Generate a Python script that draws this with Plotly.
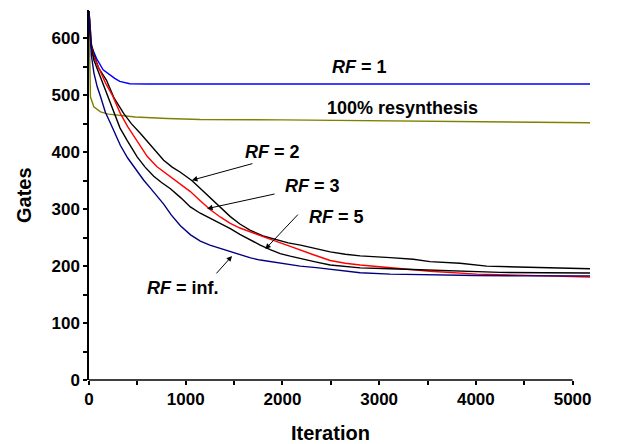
import plotly.graph_objects as go

# ---- data ----
rf1_x = [0, 5, 26, 77, 146, 215, 266, 318, 421, 600, 1000, 2000, 3000, 4000, 5180]
rf1_y = [648, 600, 586, 565, 545, 536, 530, 524.5, 520.5, 520, 520, 520, 520, 520, 520]

resyn_x = [0, 5, 15, 50, 119, 200, 325, 480, 808, 1150, 2000, 3000, 4000, 5180]
resyn_y = [648, 560, 497, 480, 471, 467, 465, 462, 459.5, 457.7, 457, 455.5, 453.5, 452]

rf2_x = [0, 10, 25, 50, 100, 180, 260, 360, 440, 532, 650, 772, 860, 945, 1066, 1160, 1255,
         1360, 1461, 1560, 1668, 1800, 1943, 2060, 2187, 2350, 2494, 2650, 2804, 3114, 3354,
         3526, 3836, 4112, 4592, 5180]
rf2_y = [648, 615, 590, 572, 548, 527, 495, 468, 450, 433, 410, 386, 374, 365, 350, 335, 319,
         302, 287, 274, 263, 253, 246, 241, 237, 231, 225, 221, 218, 215, 212,
         208, 205, 200, 198, 195.5]

rf3_x = [0, 10, 25, 50, 100, 170, 242, 325, 400, 463, 530, 601, 700, 842, 950, 1048, 1150,
         1255, 1360, 1461, 1560, 1668, 1800, 1943, 2060, 2184, 2321, 2494, 2650, 2804, 3114,
         3526, 4009, 4455, 4765, 5180]
rf3_y = [648, 612, 585, 568, 548, 522, 500, 468, 445, 428, 410, 393, 375, 357, 343, 331, 315,
         299, 286, 275, 267, 260, 251, 243, 236, 229, 220, 210, 205, 202, 197,
         191, 186, 184.5, 182.6, 181]

rf5_x = [0, 10, 25, 50, 100, 190, 256, 320, 394, 450, 498, 580, 669, 750, 842, 950, 1048,
         1150, 1255, 1360, 1461, 1560, 1668, 1770, 1874, 1977, 2080, 2184, 2340, 2494, 2650,
         2804, 3114, 3526, 3900, 4250, 4700, 5180]
rf5_y = [648, 610, 583, 562, 540, 500, 470, 443, 421, 405, 392, 374, 358, 347, 336, 320, 304,
         293, 284, 275, 266, 256, 246, 237, 229, 222, 217.5, 214, 207.5, 202, 199,
         197, 195.5, 193, 190.5, 189, 188.5, 188]

rfinf_x = [0, 10, 25, 50, 85, 119, 170, 222, 280, 325, 400, 463, 520, 566, 635, 700, 772, 850,
           945, 1050, 1151, 1250, 1358, 1460, 1564, 1670, 1771, 1900, 2012, 2184, 2350, 2494,
           2650, 2804, 3114, 3526, 4000, 4455, 5180]
rfinf_y = [648, 608, 570, 540, 515, 498, 470, 451, 428, 412, 390, 375, 362, 351, 337, 323, 309,
           290, 271, 255, 244, 237, 231, 225, 219.5, 214.5, 210.7, 207, 204, 200, 197.5, 195,
           191, 188.5, 186, 184.5, 183.5, 183, 183]

x_ticks = [0, 1000, 2000, 3000, 4000, 5000]
y_ticks = [0, 100, 200, 300, 400, 500, 600]

FONT = "Liberation Sans, Arial, sans-serif"

fig = go.Figure()
series = [
    (rf1_x, rf1_y, "#0000ff", "RF = 1"),
    (resyn_x, resyn_y, "#808000", "100% resynthesis"),
    (rf2_x, rf2_y, "#000000", "RF = 2"),
    (rf3_x, rf3_y, "#ff0000", "RF = 3"),
    (rf5_x, rf5_y, "#000000", "RF = 5"),
    (rfinf_x, rfinf_y, "#000080", "RF = inf."),
]
for xs, ys, col, name in series:
    fig.add_trace(go.Scatter(x=xs, y=ys, mode="lines", name=name,
                             line=dict(color=col, width=1.4), hoverinfo="skip"))

# x axis base line only up to 5000
fig.add_shape(type="line", xref="x", yref="paper", x0=0, x1=5000, y0=0, y1=0,
              line=dict(color="black", width=1.5))

labels = [
    ("<b><i>RF</i> = 1</b>", 2492, 550),
    ("<b>100% resynthesis</b>", 2440, 478),
    ("<b><i>RF</i> = 2</b>", 1592, 401),
    ("<b><i>RF</i> = 3</b>", 2006, 341.4),
    ("<b><i>RF</i> = 5</b>", 2254, 287),
    ("<b><i>RF</i> = inf.</b>", 579, 161.6),
]
for txt, x, y in labels:
    fig.add_annotation(x=x, y=y, text=txt, showarrow=False, xanchor="left", yanchor="middle",
                       font=dict(family=FONT, size=18, color="black"))

arrows = [
    (1064, 351, 62, -17),
    (1221, 301, 69, -15),
    (1823, 230, 34, -36),
    (1479, 218, -17, 19),
]
for x, y, ax, ay in arrows:
    fig.add_annotation(x=x, y=y, ax=ax, ay=ay, text="", showarrow=True,
                       arrowhead=2, arrowsize=1.1, arrowwidth=1, arrowcolor="black")

# axis titles
fig.add_annotation(x=2500, xref="x", y=0, yref="paper", yshift=-53, text="<b>Iteration</b>",
                   showarrow=False, xanchor="center", yanchor="middle",
                   font=dict(family=FONT, size=20, color="black"))
fig.add_annotation(x=0, xref="paper", xshift=-65, y=0.5, yref="paper", text="<b>Gates</b>",
                   textangle=-90, showarrow=False, xanchor="center", yanchor="middle",
                   font=dict(family=FONT, size=20, color="black"))

fig.update_layout(
    width=622, height=444,
    margin=dict(l=89, r=32, t=10, b=64),
    paper_bgcolor="white", plot_bgcolor="white",
    showlegend=False,
    font=dict(family=FONT, size=17, color="black"),
    xaxis=dict(range=[0, 5180], tickvals=x_ticks, ticktext=[f"<b>{v}</b>" for v in x_ticks],
               ticks="outside", ticklen=4, tickwidth=1.5, tickcolor="black",
               showline=False, showgrid=False, zeroline=False,
               minor=dict(tickvals=[500, 1500, 2500, 3500, 4500], ticks="outside", ticklen=4,
                          tickwidth=1.5, tickcolor="black")),
    yaxis=dict(range=[0, 650], tickvals=y_ticks, ticktext=[f"<b>{v}</b>" for v in y_ticks],
               ticks="outside", ticklen=4, tickwidth=1.5, tickcolor="black",
               showline=True, linecolor="black", linewidth=1.5,
               showgrid=False, zeroline=False,
               minor=dict(tickvals=[50, 150, 250, 350, 450, 550], ticks="outside", ticklen=4,
                          tickwidth=1.5, tickcolor="black")),
)

fig.write_html("out.html")
